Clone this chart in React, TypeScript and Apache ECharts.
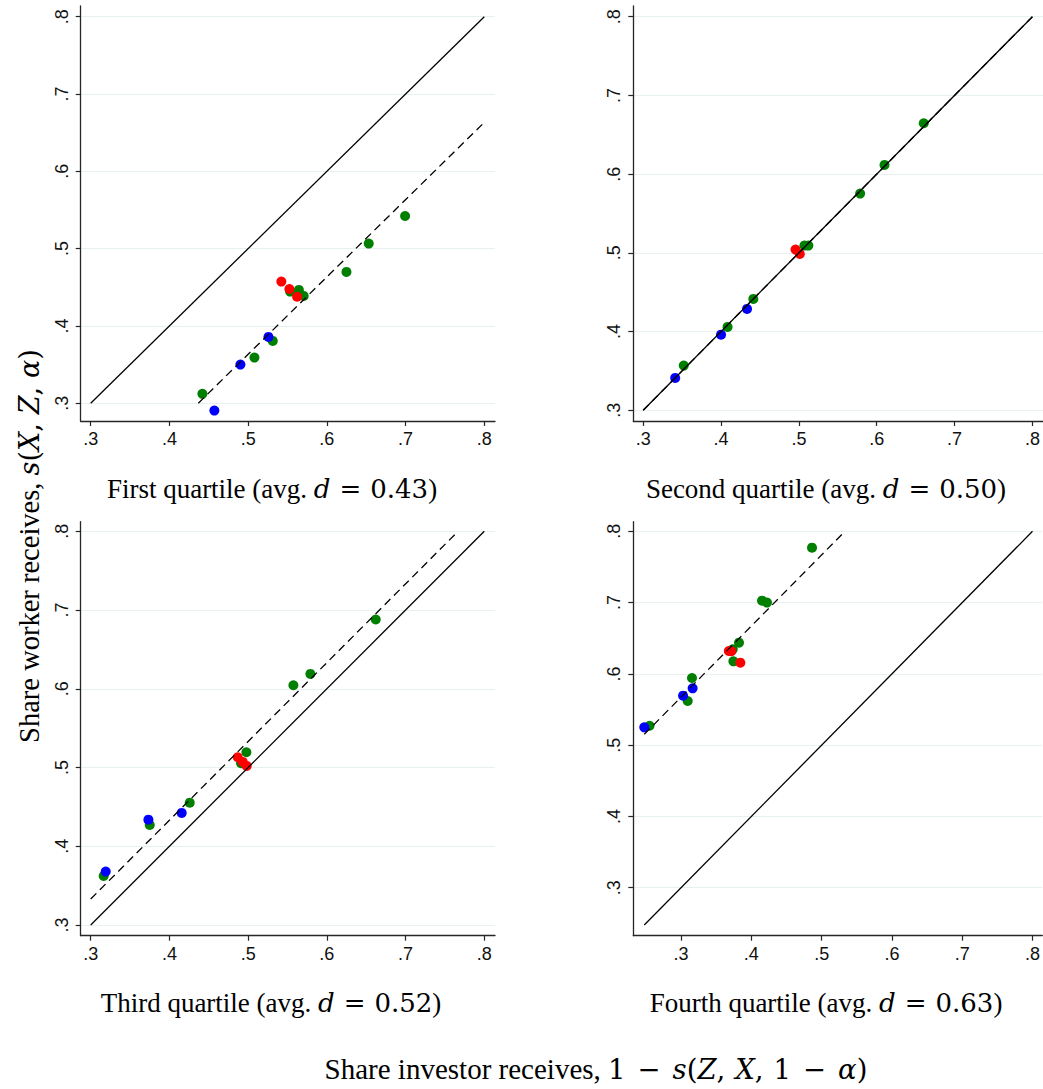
import React, { useEffect, useRef } from 'react';
import * as echarts from 'echarts';

// ---- data ----
const tickValues = [0.3, 0.4, 0.5, 0.6, 0.7, 0.8];
const quartileNames = ['First', 'Second', 'Third', 'Fourth'];
const avgD = ['0.43', '0.50', '0.52', '0.63'];

const p1Green = [[0.4419, 0.3121], [0.508, 0.359], [0.5313, 0.3806], [0.5533, 0.4444], [0.5645, 0.4466], [0.5706, 0.4388], [0.6249, 0.4698], [0.6532, 0.5065], [0.6994, 0.5422]];
const p1Red = [[0.5422, 0.4573], [0.5524, 0.4477], [0.5622, 0.4377]];
const p1Blue = [[0.4571, 0.2905], [0.4902, 0.35], [0.5258, 0.3858]];
const p1Solid = [[0.3, 0.3], [0.8, 0.8]];
const p1Dash = [[0.4367, 0.3], [0.8, 0.6633]];

const p2Green = [[0.3521, 0.3568], [0.4084, 0.4059], [0.4415, 0.4415], [0.5071, 0.5092], [0.5122, 0.5092], [0.5787, 0.5753], [0.61, 0.6117], [0.6604, 0.6647]];
const p2Red = [[0.4957, 0.5042], [0.5012, 0.4986]];
const p2Blue = [[0.3411, 0.3411], [0.4, 0.3961], [0.4334, 0.4288]];
const p2Solid = [[0.3, 0.3], [0.8, 0.8]];
const p2Dash = [[0.3, 0.3], [0.8, 0.8]];

const p3Green = [[0.3165, 0.3623], [0.375, 0.4271], [0.4258, 0.4554], [0.491, 0.5054], [0.4978, 0.5194], [0.5575, 0.6045], [0.5791, 0.6189], [0.6621, 0.688]];
const p3Red = [[0.4868, 0.513], [0.4932, 0.5071], [0.4982, 0.502]];
const p3Blue = [[0.3191, 0.3678], [0.3733, 0.4338], [0.4156, 0.4423]];
const p3Solid = [[0.3, 0.3], [0.8, 0.8]];
const p3Dash = [[0.3, 0.333], [0.7667, 0.8]];

const p4Green = [[0.2551, 0.5273], [0.3094, 0.5619], [0.3155, 0.5942], [0.3735, 0.6344], [0.3744, 0.6176], [0.3824, 0.6438], [0.4152, 0.7027], [0.4222, 0.7], [0.4863, 0.7771]];
const p4Red = [[0.3679, 0.6321], [0.3715, 0.6318], [0.3843, 0.6157]];
const p4Blue = [[0.2476, 0.525], [0.3028, 0.5694], [0.3164, 0.5797]];
const p4Solid = [[0.2476, 0.2476], [0.8, 0.8]];
const p4Dash = [[0.2476, 0.5152], [0.5294, 0.7963]];

const panels = [
  { green: p1Green, red: p1Red, blue: p1Blue, solid: p1Solid, dash: p1Dash },
  { green: p2Green, red: p2Red, blue: p2Blue, solid: p2Solid, dash: p2Dash },
  { green: p3Green, red: p3Red, blue: p3Blue, solid: p3Solid, dash: p3Dash },
  { green: p4Green, red: p4Red, blue: p4Blue, solid: p4Solid, dash: p4Dash },
];

// ---- layout ----
const gridPos = [
  { left: 80.7, top: 6, width: 414.3, height: 415 },
  { left: 633.3, top: 6, width: 414.3, height: 415 },
  { left: 80.7, top: 521.7, width: 414.3, height: 414 },
  { left: 633.3, top: 521.7, width: 414.3, height: 414 },
];
const xRanges = [[0.2873, 0.8136], [0.2873, 0.8136], [0.2873, 0.8136], [0.232, 0.8139]];
const yRanges = [[0.277, 0.8138], [0.2864, 0.8136], [0.2864, 0.8122], [0.2327, 0.8135]];
const titlePos = [[272, 489], [826, 489], [271, 1003], [826, 1003]];

const fmt = (v: number) => {
  const s = v.toFixed(1);
  return s.startsWith('0') ? s.slice(1) : s;
};

const axisColor = '#262626';
const labelFont = { fontFamily: 'Liberation Sans', fontSize: 18, color: '#111' };

const serif = 'Liberation Serif';
const mathFont = 'DejaVu Serif';
const rich = (size: number, msize: number, eqPad: number, commaPad: number) => ({
  n: { fontFamily: serif, fontSize: size, color: '#000' },
  i: { fontFamily: mathFont, fontSize: msize, fontStyle: 'italic', color: '#000' },
  m: { fontFamily: mathFont, fontSize: msize, color: '#000' },
  op: { fontFamily: mathFont, fontSize: msize, color: '#000', padding: [0, eqPad, 0, eqPad] },
  c: { fontFamily: mathFont, fontSize: msize, color: '#000', padding: [0, commaPad, 0, 0] },
});

export default function App() {
  const ref = useRef<HTMLDivElement>(null);
  useEffect(() => {
    if (!ref.current) return;
    const chart = echarts.init(ref.current, undefined, { renderer: 'svg' });

    const grid = gridPos.map((g) => ({ ...g, containLabel: false }));
    const xAxis = xRanges.map((r, i) => ({
      type: 'value',
      gridIndex: i,
      min: r[0],
      max: r[1],
      axisLine: { show: true, lineStyle: { color: axisColor, width: 1.3 } },
      axisTick: { show: true, length: 5, customValues: tickValues, lineStyle: { color: axisColor, width: 1.2 } },
      axisLabel: { show: true, customValues: tickValues, formatter: fmt, margin: 9, ...labelFont },
      splitLine: { show: false },
    }));
    const yAxis = yRanges.map((r, i) => ({
      type: 'value',
      gridIndex: i,
      min: r[0],
      max: r[1],
      axisLine: { show: true, lineStyle: { color: axisColor, width: 1.3 } },
      axisTick: { show: true, length: 5, customValues: tickValues, lineStyle: { color: axisColor, width: 1.2 } },
      axisLabel: { show: true, customValues: tickValues, formatter: fmt, rotate: 90, margin: 10, ...labelFont },
      splitLine: { show: true, lineStyle: { color: '#e8f0f2', width: 1.2 } },
    }));

    const series: any[] = [];
    panels.forEach((p, i) => {
      const groups: [number[][], string][] = [[p.green, '#007f00'], [p.red, '#ff0000'], [p.blue, '#0000ff']];
      groups.forEach(([d, c]) => {
        series.push({
          type: 'scatter',
          xAxisIndex: i,
          yAxisIndex: i,
          data: d,
          symbol: 'circle',
          symbolSize: 10,
          itemStyle: { color: c, opacity: 1 },
          z: 2,
          silent: true,
        });
      });
      series.push({
        type: 'line', xAxisIndex: i, yAxisIndex: i, data: p.solid, symbol: 'none',
        lineStyle: { color: '#000', width: 1.3, type: 'solid' }, z: 3, silent: true,
      });
      series.push({
        type: 'line', xAxisIndex: i, yAxisIndex: i, data: p.dash, symbol: 'none',
        lineStyle: { color: '#000', width: 1.3, type: [8, 5] }, z: 3, silent: true,
      });
    });

    const graphic: any[] = quartileNames.map((q, i) => ({
      type: 'text',
      x: titlePos[i][0],
      y: titlePos[i][1],
      style: {
        text: `{n|${q} quartile (avg. }{i|d}{op|=}{m|${avgD[i]}}{n|)}`,
        rich: rich(27, 26, 9, 0),
        align: 'center',
        verticalAlign: 'middle',
      },
    }));
    graphic.push({
      type: 'text',
      x: 29,
      y: 546,
      rotation: Math.PI / 2,
      style: {
        text: '{n|Share worker receives, }{i|s}{m|(}{i|X}{c|,}{i|Z}{c|,}{i|α}{m|)}',
        rich: rich(28.5, 27, 10, 9),
        align: 'center',
        verticalAlign: 'middle',
      },
    });
    graphic.push({
      type: 'text',
      x: 596,
      y: 1069,
      style: {
        text: '{n|Share investor receives, }{m|1}{op|−}{i|s}{m|(}{i|Z}{c|,}{i|X}{c|,}{m|1}{op|−}{i|α}{m|)}',
        rich: rich(29, 27.5, 12, 10),
        align: 'center',
        verticalAlign: 'middle',
      },
    });

    chart.setOption({
      animation: false,
      backgroundColor: '#fff',
      grid,
      xAxis,
      yAxis,
      series,
      graphic,
    });
    return () => chart.dispose();
  }, []);
  return <div ref={ref} style={{ position: 'absolute', left: 0, top: 0, width: 1043, height: 1089 }} />;
}
